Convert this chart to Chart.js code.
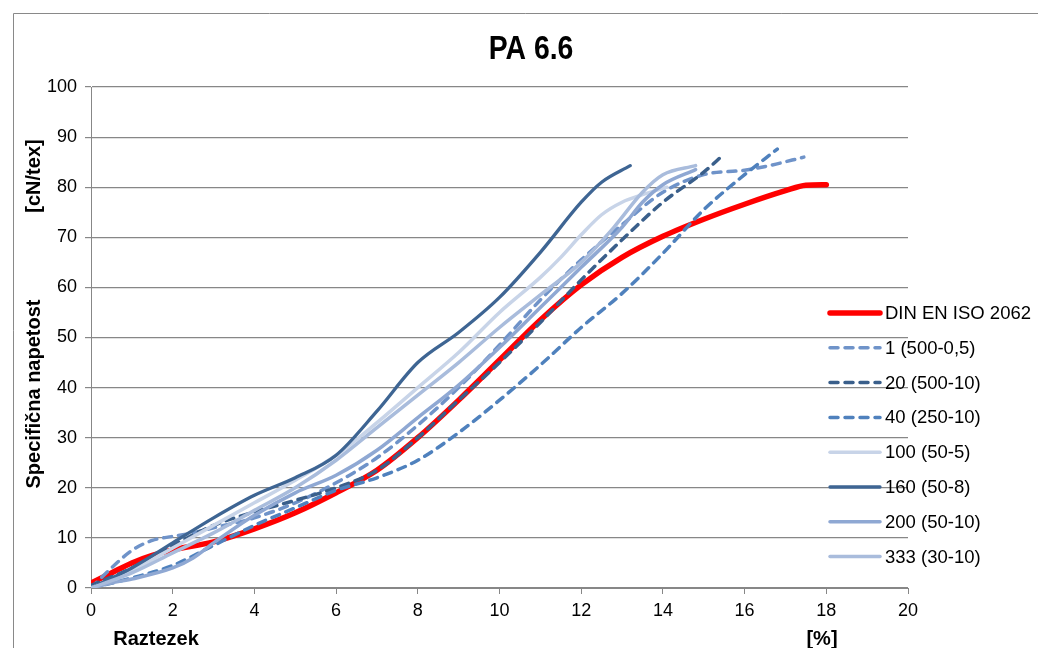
<!DOCTYPE html>
<html><head><meta charset="utf-8">
<script src="https://cdn.jsdelivr.net/npm/chart.js@4/dist/chart.umd.min.js"></script>
<style>html,body{margin:0;padding:0;background:#fff}#wrap{width:1038px;height:648px}</style>
</head><body><div id="wrap"><canvas id="c" width="1038" height="648"></canvas></div>
<script>
const chartTitle = 'PA 6.6';
const yTitleMain = 'Specifična napetost';
const yTitleUnit = '[cN/tex]';
const xTitleMain = 'Raztezek';
const xTitleUnit = '[%]';
const seriesLabels = ['DIN EN ISO 2062','1 (500-0,5)','20 (500-10)','40 (250-10)','100 (50-5)','160 (50-8)','200 (50-10)','333 (30-10)'];

const strainDIN = [0,0.5,1,1.5,2,3,4,5,6,7,8,9,10,11,12,13,14,15,16,17,17.5,18];
const stressDIN = [1,3,5,6.5,7.6,9.2,11.8,15,19,23.5,30,37.5,45.5,53.5,60.5,66,70.2,73.6,76.6,79.3,80.4,80.5];

const strainS1 = [0,0.5,1,1.5,2,2.5,3,4,5,6,7,8,9,10,11,12,13,14,15,16,16.6,17.45];
const stressS1 = [0,4,7.5,9.5,10.3,11,12,14,17,21,26,32.5,40,48.5,57.5,65.5,72.5,79,82.5,83.4,84.3,86];

const strainS20 = [0,1,2,3,4,5,6,7,8,9,10,11,12,13,14,15,15.47];
const stressS20 = [0.5,4,8.5,12.5,15.2,17.5,20,23.5,30,37.5,45,53,61.5,69.5,77,83,86.4];

const strainS40 = [0,1,2,3,4,5,6,7,8,9,10,11,12,13,14,15,16,16.8];
const stressS40 = [0,2,4.5,8.5,12.5,16,19.5,22,25.5,31,37.5,44.5,52,58.8,66.8,75.5,82.5,87.6];

const strainS100 = [0,1,2,3,4,5,6,7,8,9,10,11,11.5,12,12.5,13,13.5,14.1];
const stressS100 = [0,3.5,8,12.5,17,21.5,26.5,33,40,47,55,62,66,70.5,74.5,77,78.5,80];

const strainS160 = [0,1,2,3,4,5,6,7,8,9,10,11,12,12.5,13.2];
const stressS160 = [0,4,9,14,18.5,22,26.5,35.3,45,51,58,67,77,81,84.3];

const strainS200 = [0,0.5,1,2,2.5,3,4,5,6,7,8,9,10,11,12,13,13.5,14,14.8];
const stressS200 = [0,1,1.8,4,6,9,14.5,19,22.5,27.5,34,40.5,48,56,64,72,77,80.5,83.5];

const strainS333 = [0,1,2,3,4,5,6,7,8,9,10,11,12,12.8,13.5,14,14.8];
const stressS333 = [0,3,7,11,15.5,20,25.5,32,38.5,45,52,58.5,65,72,79,82.5,84.3];

const xTickValues = [0,2,4,6,8,10,12,14,16,18,20];
const yTickValues = [0,10,20,30,40,50,60,70,80,90,100];

const seriesColors = ['#ff0000','#6f93c9','#3a5f8b','#4f81bd','#c8d4e8','#3e6593','#8fa8d3','#a9bcdc'];
const seriesDashed = [false,true,true,true,false,false,false,false];
const seriesWidths = [5.5,3.5,3.5,3.5,3.5,3.3,3.5,3.5];

const strainSets = [strainDIN,strainS1,strainS20,strainS40,strainS100,strainS160,strainS200,strainS333];
const stressSets = [stressDIN,stressS1,stressS20,stressS40,stressS100,stressS160,stressS200,stressS333];

const datasets = seriesLabels.map((lab,i)=>({
  label: lab,
  data: strainSets[i].map((x,j)=>({x:x,y:stressSets[i][j]})),
  borderColor: seriesColors[i],
  backgroundColor: seriesColors[i],
  borderWidth: seriesWidths[i],
  borderDash: seriesDashed[i] ? [8,7] : [],
  borderCapStyle: 'round',
  borderJoinStyle: 'round',
  pointRadius: 0,
  fill: false,
  cubicInterpolationMode: 'monotone',
  order: seriesLabels.length - i
}));

const GRID = '#878787';
const FONT = '"Liberation Sans", Arial, sans-serif';

const decor = {
  id: 'decor',
  afterDraw(chart){
    const ctx = chart.ctx;
    ctx.save();
    ctx.strokeStyle = '#898989';
    ctx.lineWidth = 1;
    ctx.beginPath();
    ctx.moveTo(13.5,648); ctx.lineTo(13.5,13.5); ctx.lineTo(1038,13.5);
    ctx.stroke();
    ctx.fillStyle = '#000';
    ctx.textAlign = 'center';
    ctx.textBaseline = 'middle';
    ctx.save();
    ctx.translate(531, 50); ctx.scale(0.86, 1);
    ctx.font = 'bold 33px ' + FONT;
    ctx.fillText(chartTitle, 0, 0);
    ctx.restore();
    ctx.font = 'bold 20px ' + FONT;
    ctx.fillText(xTitleMain, 156, 639);
    ctx.fillText(xTitleUnit, 822, 639);
    ctx.save();
    ctx.translate(34, 394); ctx.rotate(-Math.PI/2);
    ctx.fillText(yTitleMain, 0, 0);
    ctx.restore();
    ctx.save();
    ctx.translate(34, 176); ctx.rotate(-Math.PI/2);
    ctx.fillText(yTitleUnit, 0, 0);
    ctx.restore();
    // legend
    ctx.textAlign = 'left';
    ctx.font = '18.5px ' + FONT;
    chart.data.datasets.forEach((ds,i)=>{
      const y = 313 + i*34.8;
      ctx.save();
      ctx.strokeStyle = ds.borderColor;
      ctx.lineWidth = ds.borderWidth;
      ctx.lineCap = 'round';
      ctx.setLineDash(ds.borderDash);
      ctx.beginPath(); ctx.moveTo(830,y); ctx.lineTo(880,y); ctx.stroke();
      ctx.restore();
      ctx.fillStyle = '#000';
      ctx.fillText(ds.label, 885, y+1);
    });
    ctx.restore();
  }
};

new Chart(document.getElementById('c'), {
  type: 'line',
  data: { datasets: datasets },
  plugins: [decor],
  options: {
    responsive: false,
    animation: false,
    devicePixelRatio: 1,
    layout: { padding: { top: 87, right: 130, bottom: 20, left: 0 } },
    plugins: { legend: { display: false }, title: { display: false }, tooltip: { enabled: false } },
    scales: {
      x: {
        type: 'linear', min: 0, max: 20,
        afterFit(s){ s.height = 40; },
        afterBuildTicks(s){ s.ticks = xTickValues.map(v=>({value:v})); },
        ticks: { font: { size: 18, family: FONT }, color: '#000', padding: 6, maxRotation: 0 },
        grid: { drawOnChartArea: false, drawTicks: true, tickLength: 6, color: GRID },
        border: { color: GRID, width: 1 }
      },
      y: {
        min: 0, max: 100,
        afterFit(s){ s.width = 91; },
        afterBuildTicks(s){ s.ticks = yTickValues.map(v=>({value:v})); },
        ticks: { font: { size: 18, family: FONT }, color: '#000', padding: 8 },
        grid: { color: GRID, tickLength: 6, lineWidth: 1.2 },
        border: { color: GRID, width: 1 }
      }
    }
  }
});
</script></body></html>
